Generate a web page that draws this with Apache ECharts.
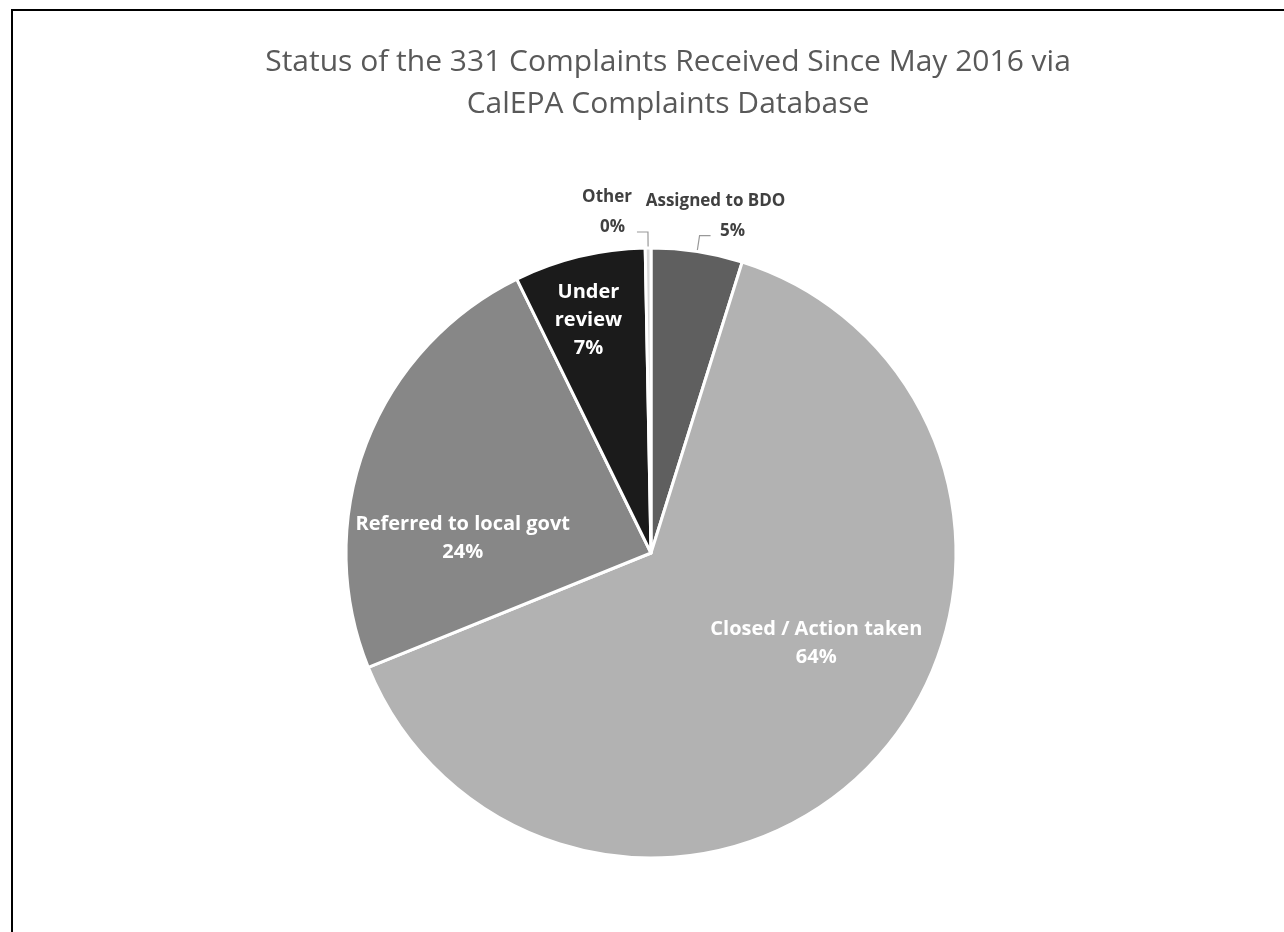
<!DOCTYPE html>
<html>
<head>
<meta charset="utf-8">
<title>CalEPA Complaints</title>
<script src="https://cdn.jsdelivr.net/npm/echarts@6/dist/echarts.min.js"></script>
<style>
    html, body { margin: 0; padding: 0; background: #fff; }
    #main { width: 1284px; height: 932px; }
    #frame {
        position: absolute; left: 11px; top: 9px; width: 1290px; height: 940px;
        border-left: 2px solid #000; border-top: 2px solid #000;
        pointer-events: none;
    }
</style>
</head>
<body>
<div id="main"></div>
<div id="frame"></div>
<script>
// complaint counts (331 total)
var categories = ['Assigned to BDO', 'Closed / Action taken', 'Referred to local govt', 'Under review', 'Other'];
var counts = [16, 212, 79, 23, 1];
var colors = ['#5f5f5f', '#b2b2b2', '#878787', '#1b1b1b', '#d9d9d9'];
// which labels sit outside the pie, and how they line up with the leader line
var outside = [true, false, false, false, true];
var outsideAlign = ['center', null, null, null, 'right'];
var pctPadding = [[0, 0, 0, 34], null, null, null, [0, 7, 0, 0]];
// nudge of the inside labels, px
var labelShift = [[0, 0], [51, -15], [-43, 41], [-26, -82], [0, 0]];

var dom = document.getElementById('main');
var myChart = echarts.init(dom);

var fontFamily = "'Open Sans', sans-serif";

var seriesData = categories.map(function (name, i) {
    var item = {
        name: name,
        value: counts[i],
        itemStyle: { color: colors[i] }
    };
    if (outside[i]) {
        item.label = {
            position: 'outside',
            formatter: '{n|{b}}\n{p|{d}%}',
            padding: [0, 0, 40, 0],
            rich: {
                n: {
                    fontFamily: fontFamily, fontWeight: 'bold', fontSize: 17,
                    lineHeight: 30, color: '#404040'
                },
                p: {
                    fontFamily: fontFamily, fontWeight: 'bold', fontSize: 17,
                    lineHeight: 30, color: '#404040',
                    padding: pctPadding[i]
                }
            }
        };
        item.labelLine = { show: true };
    }
    return item;
});

var option = {
    graphic: [
        {
            type: 'text',
            x: 668,
            y: 41,
            style: {
                text: 'Status of the 331 Complaints Received Since May 2016 via\nCalEPA Complaints Database',
                align: 'center',
                fontFamily: fontFamily,
                fontSize: 30,
                lineHeight: 42,
                fill: '#595959'
            }
        }
    ],
    series: [
        {
            type: 'pie',
            center: [651, 553],
            radius: 305,
            startAngle: 90,
            clockwise: true,
            percentPrecision: 0,
            avoidLabelOverlap: false,
            itemStyle: {
                borderColor: '#ffffff',
                borderWidth: 3
            },
            label: {
                show: true,
                position: 'inside',
                formatter: function (p) {
                    var name = p.name === 'Under review' ? 'Under\nreview' : p.name;
                    return name + '\n' + p.percent + '%';
                },
                fontFamily: fontFamily,
                fontWeight: 'bold',
                fontSize: 20,
                lineHeight: 28,
                color: '#ffffff'
            },
            labelLine: {
                length: 16,
                length2: 11,
                lineStyle: { color: '#999999', width: 1.2 }
            },
            labelLayout: function (params) {
                var i = params.dataIndex;
                if (outside[i]) {
                    return { align: outsideAlign[i] };
                }
                return { dx: labelShift[i][0], dy: labelShift[i][1] };
            },
            data: seriesData
        }
    ]
};

myChart.setOption(option);
</script>
</body>
</html>
